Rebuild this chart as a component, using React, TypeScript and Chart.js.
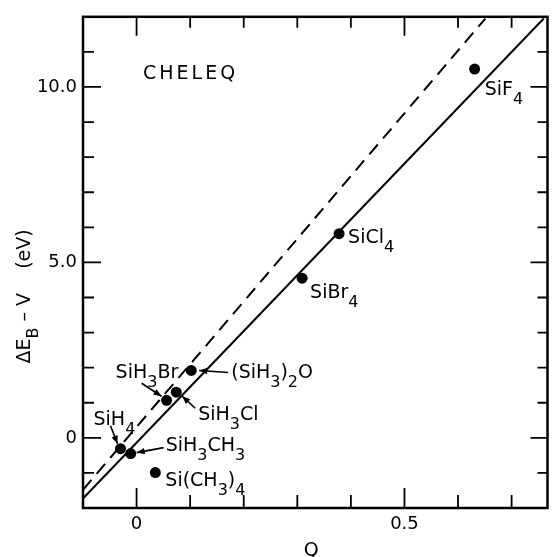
import React, { useEffect, useRef } from "react";
import { Chart, registerables } from "chart.js";

Chart.register(...registerables);

// ---- data ----
const compounds = [
  "SiF_4",
  "SiCl_4",
  "SiBr_4",
  "(SiH_3)_2O",
  "SiH_3Cl",
  "SiH_3Br",
  "SiH_4",
  "SiH_3CH_3",
  "Si(CH_3)_4",
];
const qValues = [0.631, 0.378, 0.309, 0.102, 0.074, 0.056, -0.03, -0.011, 0.035];
const deltaE = [10.51, 5.82, 4.55, 1.92, 1.3, 1.07, -0.31, -0.45, -0.99];

const solidFitQ = [-0.1, 0.76];
const solidFitE = [-1.73, 11.95];
const dashedFitQ = [-0.1, 0.651];
const dashedFitE = [-1.48, 11.95];

const xTickValues = [0, 0.1, 0.2, 0.3, 0.4, 0.5, 0.6, 0.7];
const xTickText = ["0", "", "", "", "", "0.5", "", ""];
const yTickValues = [-1, 0, 1, 2, 3, 4, 5, 6, 7, 8, 9, 10, 11];
const yTickText = ["", "0", "", "", "", "", "5.0", "", "", "", "", "10.0", ""];

const X_MIN = -0.1;
const X_MAX = 0.767;
const Y_MIN = -2;
const Y_MAX = 12;

// ---- label placement (pixel offsets from each point) ----
type Place = { dx: number; dy: number; arrow?: [number, number, number, number] };
const labelPlaces: Place[] = [
  { dx: 10, dy: 19 },
  { dx: 9, dy: 2 },
  { dx: 8, dy: 13 },
  { dx: 40, dy: 1, arrow: [37, 2, 8, 0] },
  { dx: 22, dy: 21, arrow: [19, 16, 6, 4] },
  { dx: -51, dy: -29, arrow: [-25, -17, -5, -4] },
  { dx: -27, dy: -31, arrow: [-10, -23, -3, -5] },
  { dx: 35, dy: -10, arrow: [33, -6, 6, -1] },
  { dx: 10, dy: 6 },
];

const FONT = '"DejaVu Sans", "Liberation Sans", sans-serif';

type Seg = { t: string; sub: boolean };
function parseRich(s: string): Seg[] {
  const segs: Seg[] = [];
  for (let i = 0; i < s.length; i++) {
    if (s[i] === "_" && i + 1 < s.length) {
      segs.push({ t: s[i + 1], sub: true });
      i++;
    } else {
      const last = segs[segs.length - 1];
      if (last && !last.sub) last.t += s[i];
      else segs.push({ t: s[i], sub: false });
    }
  }
  return segs;
}

function richWidth(ctx: CanvasRenderingContext2D, segs: Seg[], size: number, subSize: number) {
  let w = 0;
  for (const s of segs) {
    ctx.font = `${s.sub ? subSize : size}px ${FONT}`;
    w += ctx.measureText(s.t).width;
  }
  return w;
}

// draws rich text with left at x and baseline at y
function drawRich(
  ctx: CanvasRenderingContext2D,
  text: string,
  x: number,
  y: number,
  size: number,
  subSize: number,
  subDrop: number,
  align: "left" | "center" = "left"
) {
  const segs = parseRich(text);
  let cx = x;
  if (align === "center") cx = x - richWidth(ctx, segs, size, subSize) / 2;
  ctx.textAlign = "left";
  ctx.textBaseline = "alphabetic";
  for (const s of segs) {
    ctx.font = `${s.sub ? subSize : size}px ${FONT}`;
    ctx.fillText(s.t, cx, s.sub ? y + subDrop : y);
    cx += ctx.measureText(s.t).width;
  }
}

const decorPlugin = {
  id: "decor",
  afterDatasetsDraw(chart: any) {
    const ctx: CanvasRenderingContext2D = chart.ctx;
    const xs = chart.scales.x;
    const ys = chart.scales.y;
    const area = chart.chartArea;
    ctx.save();
    ctx.fillStyle = "#000";
    ctx.strokeStyle = "#000";

    // labels and arrows
    const LSIZE = 19;
    const CAP = 7;
    compounds.forEach((name, i) => {
      const px = xs.getPixelForValue(qValues[i]);
      const py = ys.getPixelForValue(deltaE[i]);
      const p = labelPlaces[i];
      drawRich(ctx, name, px + p.dx, py + p.dy + CAP, LSIZE, 16, 9);
      if (p.arrow) {
        const [sx, sy, ex, ey] = p.arrow;
        const x1 = px + sx, y1 = py + sy, x2 = px + ex, y2 = py + ey;
        ctx.lineWidth = 1.6;
        ctx.beginPath();
        ctx.moveTo(x1, y1);
        ctx.lineTo(x2, y2);
        ctx.stroke();
        const ang = Math.atan2(y2 - y1, x2 - x1);
        const L = 8, W = 3.2;
        ctx.beginPath();
        ctx.moveTo(x2, y2);
        ctx.lineTo(x2 - L * Math.cos(ang) + W * Math.sin(ang), y2 - L * Math.sin(ang) - W * Math.cos(ang));
        ctx.lineTo(x2 - L * Math.cos(ang) - W * Math.sin(ang), y2 - L * Math.sin(ang) + W * Math.cos(ang));
        ctx.closePath();
        ctx.fill();
      }
    });

    // CHELEQ
    ctx.font = `19px ${FONT}`;
    (ctx as any).letterSpacing = "3px";
    ctx.textAlign = "left";
    ctx.textBaseline = "alphabetic";
    ctx.fillText("CHELEQ", area.left + 60, area.top + 62);
    (ctx as any).letterSpacing = "0px";

    // frame
    ctx.lineWidth = 2.5;
    ctx.strokeRect(area.left, area.top, area.right - area.left, area.bottom - area.top);

    // inward ticks
    ctx.lineWidth = 1.8;
    ctx.beginPath();
    xs.ticks.forEach((t: any, idx: number) => {
      const v = t.value;
      if (v <= X_MIN + 1e-9 || v >= X_MAX - 1e-9) return;
      const x = xs.getPixelForValue(v);
      const major = xTickText[idx] !== "";
      ctx.moveTo(x, area.bottom);
      ctx.lineTo(x, area.bottom - (major ? 20 : 13));
      ctx.moveTo(x, area.top);
      ctx.lineTo(x, area.top + (major ? 19 : 11));
    });
    ys.ticks.forEach((t: any, idx: number) => {
      const v = t.value;
      if (v <= Y_MIN + 1e-9 || v >= Y_MAX - 1e-9) return;
      const y = ys.getPixelForValue(v);
      const major = yTickText[idx] !== "";
      ctx.moveTo(area.left, y);
      ctx.lineTo(area.left + (major ? 18 : 11), y);
      ctx.moveTo(area.right, y);
      ctx.lineTo(area.right - (major ? 17 : 10), y);
    });
    ctx.stroke();

    // axis titles
    ctx.save();
    ctx.translate(30, (area.top + area.bottom) / 2 + 34);
    ctx.rotate(-Math.PI / 2);
    drawRich(ctx, "\u0394E_B \u2013 V    (eV)", 0, 0, 19, 16, 8, "center");
    ctx.restore();

    ctx.font = `19px ${FONT}`;
    ctx.textAlign = "center";
    ctx.textBaseline = "alphabetic";
    ctx.fillText("Q", (area.left + area.right) / 2 - 4, 556);

    ctx.restore();
  },
};

export default function App() {
  const ref = useRef<HTMLCanvasElement | null>(null);
  useEffect(() => {
    document.body.style.margin = "0";
    const canvas = ref.current!;
    const chart = new Chart(canvas, {
      type: "scatter",
      data: {
        datasets: [
          {
            label: "compounds",
            data: qValues.map((q, i) => ({ x: q, y: deltaE[i] })),
            pointRadius: 5.5,
            pointBackgroundColor: "#000",
            pointBorderWidth: 0,
            showLine: false,
          },
          {
            label: "solid",
            data: solidFitQ.map((q, i) => ({ x: q, y: solidFitE[i] })),
            showLine: true,
            borderColor: "#000",
            borderWidth: 2,
            pointRadius: 0,
          },
          {
            label: "dashed",
            data: dashedFitQ.map((q, i) => ({ x: q, y: dashedFitE[i] })),
            showLine: true,
            borderColor: "#000",
            borderWidth: 2,
            borderDash: [13, 8],
            pointRadius: 0,
          },
        ],
      },
      options: {
        animation: false,
        responsive: false,
        devicePixelRatio: 1,
        layout: { padding: { left: 0, right: 1, top: 14, bottom: 0 } },
        plugins: {
          legend: { display: false },
          tooltip: { enabled: false },
        },
        scales: {
          x: {
            type: "linear",
            min: X_MIN,
            max: X_MAX,
            grid: { display: false, drawTicks: false },
            border: { display: false },
            afterBuildTicks: (scale: any) => {
              scale.ticks = xTickValues.map((v) => ({ value: v }));
            },
            afterFit: (scale: any) => {
              scale.height = 49;
            },
            ticks: {
              autoSkip: false,
              maxRotation: 0,
              padding: 6,
              color: "#000",
              font: { family: FONT, size: 18 },
              callback: (_v: any, idx: number) => xTickText[idx],
            },
          },
          y: {
            type: "linear",
            min: Y_MIN,
            max: Y_MAX,
            grid: { display: false, drawTicks: false },
            border: { display: false },
            afterBuildTicks: (scale: any) => {
              scale.ticks = yTickValues.map((v) => ({ value: v }));
            },
            afterFit: (scale: any) => {
              scale.width = 83;
            },
            ticks: {
              autoSkip: false,
              padding: 6,
              color: "#000",
              font: { family: FONT, size: 18 },
              callback: (_v: any, idx: number) => yTickText[idx],
            },
          },
        },
      },
      plugins: [decorPlugin],
    } as any);
    return () => chart.destroy();
  }, []);
  return (
    <canvas
      ref={ref}
      width={553}
      height={557}
      style={{ position: "fixed", left: 0, top: 0, display: "block", background: "#fff" }}
    />
  );
}
